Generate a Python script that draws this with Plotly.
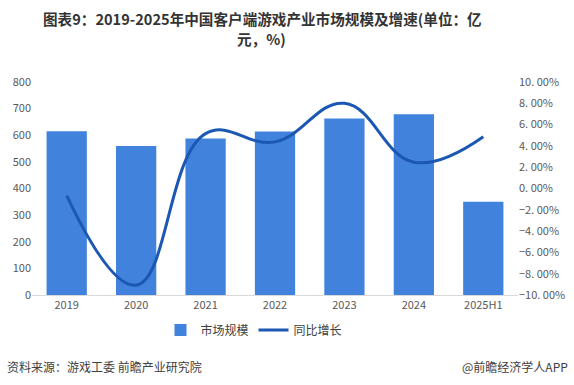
import plotly.graph_objects as go

categories = ["2019", "2020", "2021", "2022", "2023", "2024", "2025H1"]
market_size = [615.1, 559.2, 588.0, 613.7, 662.8, 679.2, 350.5]
growth_rate = [-0.66, -9.08, 5.15, 4.38, 8.00, 2.47, 4.86]
left_ticks = [0, 100, 200, 300, 400, 500, 600, 700, 800]
right_tickvals = [-10, -8, -6, -4, -2, 0, 2, 4, 6, 8, 10]
right_ticktext = ["−10. 00%", "−8. 00%", "−6. 00%", "−4. 00%", "−2. 00%", "0. 00%",
                  "2. 00%", "4. 00%", "6. 00%", "8. 00%", "10. 00%"]

FONT = "Noto Sans CJK SC"
TICK_COLOR = "#595959"

# plot area in pixels
X0, X1, YT, YB = 32, 518, 82, 295
PW, PH = X1 - X0, YB - YT

def px(x):
    return (x - X0) / PW

def py(y):
    return (YB - y) / PH

fig = go.Figure()
fig.add_trace(go.Bar(
    x=categories, y=market_size, name="市场规模",
    marker=dict(color="#4183dc", line=dict(width=0)),
    yaxis="y",
))
fig.add_trace(go.Scatter(
    x=categories, y=growth_rate, name="同比增长",
    mode="lines", line=dict(color="#1c58b3", width=3, shape="spline", smoothing=1.2),
    yaxis="y2",
))

title_font = dict(family=FONT, size=14.6, color="#333333")

fig.update_layout(
    width=574, height=385,
    margin=dict(l=X0, r=574 - X1, t=YT, b=385 - YB, autoexpand=False),
    paper_bgcolor="white", plot_bgcolor="white",
    font=dict(family=FONT, size=11, color=TICK_COLOR),
    bargap=0.42,
    showlegend=True,
    legend=dict(orientation="h", x=px(254), xanchor="center", y=py(330), yanchor="middle",
                font=dict(size=12, color="#404040"),
                bgcolor="rgba(0,0,0,0)"),
    xaxis=dict(
        type="category", showgrid=False, showline=True, linecolor="#d9d9d9", linewidth=1,
        ticks="", tickfont=dict(size=11, color=TICK_COLOR), automargin=False,
    ),
    yaxis=dict(
        range=[0, 800], tickvals=left_ticks, showgrid=False, zeroline=False,
        showline=False, ticks="", tickfont=dict(size=11, color=TICK_COLOR), automargin=False,
    ),
    yaxis2=dict(
        range=[-10, 10], tickvals=right_tickvals, ticktext=right_ticktext,
        overlaying="y", side="right", showgrid=False, zeroline=False, showline=False,
        ticks="", tickfont=dict(size=11, color=TICK_COLOR), automargin=False,
    ),
    annotations=[
        dict(text="<b>图表9：2019-2025年中国客户端游戏产业市场规模及增速(单位：亿</b>",
             xref="paper", yref="paper", x=px(262), y=py(19), xanchor="center", yanchor="middle",
             showarrow=False, font=title_font),
        dict(text="<b>元，%)</b>",
             xref="paper", yref="paper", x=px(261), y=py(39), xanchor="center", yanchor="middle",
             showarrow=False, font=title_font),
        dict(text="资料来源：游戏工委 前瞻产业研究院", xref="paper", yref="paper",
             x=px(5), y=py(366), xanchor="left", yanchor="middle", showarrow=False,
             font=dict(family=FONT, size=12, color="#404040")),
        dict(text="@前瞻经济学人APP", xref="paper", yref="paper",
             x=px(570), y=py(366), xanchor="right", yanchor="middle", showarrow=False,
             font=dict(family=FONT, size=12, color="#404040")),
    ],
)

fig.write_html("out.html", config={"displayModeBar": False},
               post_script="document.body.style.margin='0';document.body.style.overflow='hidden';")
